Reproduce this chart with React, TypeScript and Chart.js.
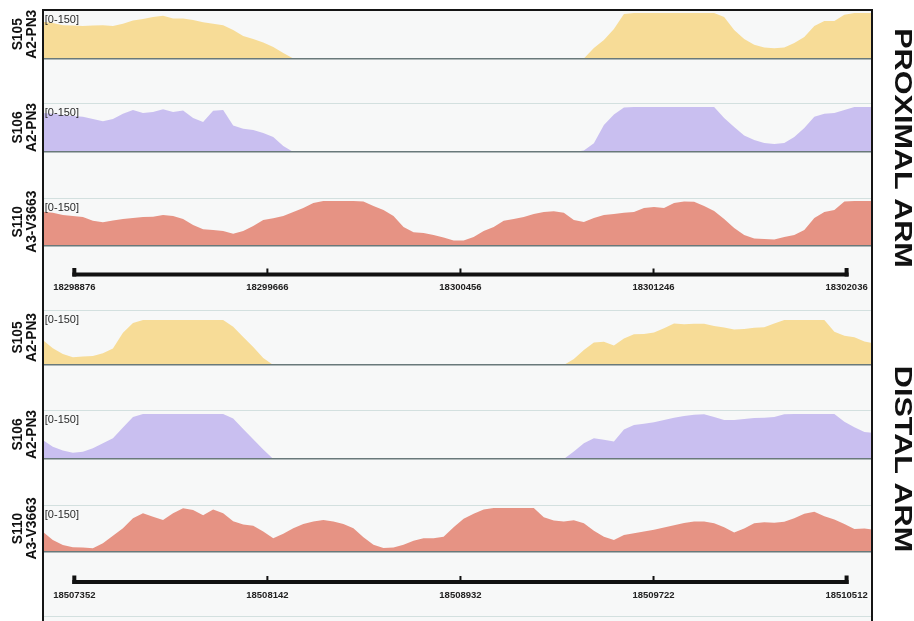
import React, { useEffect, useRef } from 'react';
import { Chart, registerables } from 'chart.js';

Chart.register(...registerables);

// genomic offset (bp) from the first scale-bar tick
const POS = [
  -129, -88, -47, -6, 35, 76, 117, 158, 199, 240,
  281, 322, 363, 404, 445, 486, 527, 568, 609, 650,
  691, 732, 773, 814, 855, 896, 937, 978, 1019, 1060,
  1101, 1142, 1183, 1224, 1265, 1306, 1347, 1388, 1429, 1470,
  1511, 1552, 1593, 1634, 1675, 1716, 1757, 1798, 1839, 1880,
  1921, 1962, 2003, 2044, 2085, 2126, 2167, 2208, 2249, 2290,
  2331, 2372, 2413, 2454, 2495, 2536, 2577, 2618, 2659, 2700,
  2741, 2782, 2823, 2864, 2905, 2946, 2987, 3028, 3069, 3110,
  3151, 3192, 3233, 3274,
];

const PROX_S105 = [
  121, 117, 110, 109, 107, 109, 110, 107, 115, 125,
  130, 137, 141, 132, 132, 127, 120, 115, 110, 94,
  74, 64, 53, 38, 18, 0, 0, 0, 0, 0,
  0, 0, 0, 0, 0, 0, 0, 0, 0, 0,
  0, 0, 0, 0, 0, 0, 0, 0, 0, 0,
  0, 0, 0, 0, 0, 35, 61, 97, 147, 150,
  150, 150, 150, 150, 150, 150, 150, 150, 137, 94,
  64, 45, 36, 34, 36, 51, 71, 107, 124, 124,
  144, 150, 150, 150,
];

const PROX_S106 = [
  130, 127, 123, 120, 117, 110, 102, 110, 127, 140,
  130, 133, 142, 133, 138, 113, 100, 137, 140, 88,
  77, 73, 63, 50, 20, 0, 0, 0, 0, 0,
  0, 0, 0, 0, 0, 0, 0, 0, 0, 0,
  0, 0, 0, 0, 0, 0, 0, 0, 0, 0,
  0, 0, 0, 0, 5, 29, 90, 125, 148, 150,
  150, 150, 150, 150, 150, 150, 150, 150, 113, 83,
  55, 40, 30, 27, 30, 50, 80, 117, 127, 130,
  140, 150, 150, 150,
];

const PROX_S110 = [
  114, 110, 103, 99, 96, 83, 78, 84, 89, 93,
  96, 97, 103, 99, 89, 69, 55, 52, 49, 40,
  49, 66, 86, 92, 99, 113, 126, 143, 150, 150,
  150, 150, 148, 133, 120, 99, 62, 45, 42, 35,
  27, 17, 17, 29, 49, 62, 83, 89, 96, 106,
  113, 115, 110, 86, 79, 93, 103, 106, 110, 113,
  126, 130, 126, 143, 148, 147, 133, 116, 89, 59,
  35, 24, 22, 20, 29, 35, 52, 93, 113, 120,
  148, 150, 150, 150,
];

const DIST_S105 = [
  83, 56, 37, 26, 28, 30, 39, 55, 107, 140,
  150, 150, 150, 150, 150, 150, 150, 150, 150, 127,
  93, 60, 23, 0, 0, 0, 0, 0, 0, 0,
  0, 0, 0, 0, 0, 0, 0, 0, 0, 0,
  0, 0, 0, 0, 0, 0, 0, 0, 0, 0,
  0, 0, 0, 20, 50, 75, 77, 65, 88, 102,
  103, 108, 122, 138, 136, 137, 137, 130, 125, 118,
  120, 124, 126, 138, 150, 150, 150, 150, 150, 111,
  97, 92, 78, 72,
];

const DIST_S106 = [
  63, 41, 28, 21, 24, 36, 52, 69, 105, 140,
  150, 150, 150, 150, 150, 150, 150, 150, 150, 135,
  100, 66, 32, 0, 0, 0, 0, 0, 0, 0,
  0, 0, 0, 0, 0, 0, 0, 0, 0, 0,
  0, 0, 0, 0, 0, 0, 0, 0, 0, 0,
  0, 0, 0, 25, 52, 69, 64, 58, 98, 113,
  117, 122, 130, 137, 143, 147, 149, 140, 130, 130,
  133, 136, 137, 140, 149, 150, 150, 150, 150, 150,
  124, 106, 90, 86,
];

const DIST_S110 = [
  69, 41, 24, 16, 15, 13, 30, 55, 81, 115,
  132, 120, 109, 132, 149, 143, 125, 145, 132, 105,
  94, 89, 70, 47, 62, 81, 95, 104, 109, 104,
  95, 81, 50, 25, 14, 15, 25, 38, 47, 47,
  52, 84, 113, 130, 145, 150, 150, 150, 150, 150,
  118, 107, 104, 108, 98, 72, 52, 41, 58, 64,
  70, 76, 83, 91, 99, 104, 104, 98, 84, 66,
  80, 98, 101, 100, 103, 115, 130, 137, 122, 111,
  95, 78, 80, 75,
];

const TICK_OFFSETS = [0, 790, 1580, 2370, 3160];
const PROX_TICK_LABELS = ['18298876', '18299666', '18300456', '18301246', '18302036'];
const DIST_TICK_LABELS = ['18507352', '18508142', '18508932', '18509722', '18510512'];
const SAMPLE_LABELS = [['S105', 'A2-PN3'], ['S106', 'A2-PN3'], ['S110', 'A3-V3663']];
const RANGE_LABEL = '[0-150]';
const ARM_LABELS = ['PROXIMAL ARM', 'DISTAL ARM'];

const X_MIN = -129;
const X_MAX = 3264;

const YELLOW = '#f7dc97';
const PURPLE = '#c9bff0';
const SALMON = '#e69384';
const FRAME = '#151515';
const PANEL_BG = '#f7f8f8';
const GUIDE = '#d3e0df';
const BASE = '#69797a';
const FONT = "'Liberation Sans', Arial, Helvetica, sans-serif";

type Row = {
  id: string;
  h: number;
  max: number;
  lines: number[];
  label?: string[];
  data?: number[];
  color?: string;
};

const ROWS: Row[] = [
  { id: 'pA', h: 48.5, max: 160, lines: [0, 160], label: SAMPLE_LABELS[0], data: PROX_S105, color: YELLOW },
  { id: 'g1', h: 44.5, max: 1, lines: [] },
  { id: 'pB', h: 49, max: 163, lines: [0, 163], label: SAMPLE_LABELS[1], data: PROX_S106, color: PURPLE },
  { id: 'g2', h: 46, max: 1, lines: [] },
  { id: 'pC', h: 47.5, max: 160, lines: [0, 160], label: SAMPLE_LABELS[2], data: PROX_S110, color: SALMON },
  { id: 'gP', h: 64.5, max: 1, lines: [] },
  { id: 'dA', h: 55, max: 183, lines: [0, 183], label: SAMPLE_LABELS[0], data: DIST_S105, color: YELLOW },
  { id: 'g4', h: 45, max: 1, lines: [] },
  { id: 'dB', h: 49, max: 163, lines: [0, 163], label: SAMPLE_LABELS[1], data: DIST_S106, color: PURPLE },
  { id: 'g5', h: 46, max: 1, lines: [] },
  { id: 'dC', h: 47, max: 160, lines: [0, 160], label: SAMPLE_LABELS[2], data: DIST_S110, color: SALMON },
  { id: 'gD', h: 69, max: 1, lines: [0.058] },
];

const SCALE_BARS = [
  { axis: 'gP', labels: PROX_TICK_LABELS, barDy: 29, labelDy: 42 },
  { axis: 'gD', labels: DIST_TICK_LABELS, barDy: 30, labelDy: 43 },
];

const ARM_TEXT_POS = [
  { x: 901, y: 148 },
  { x: 901, y: 459 },
];

const overlayPlugin = {
  id: 'overlay',
  beforeDraw(chart: any) {
    const { ctx, chartArea } = chart;
    ctx.save();
    ctx.fillStyle = PANEL_BG;
    ctx.fillRect(chartArea.left, chartArea.top, chartArea.right - chartArea.left, chartArea.bottom - chartArea.top);
    ctx.restore();
  },
  afterDraw(chart: any) {
    const { ctx, chartArea } = chart;
    const xs = chart.scales.x;
    ctx.save();
    // range labels
    ctx.fillStyle = '#2b2b2b';
    ctx.font = `11px ${FONT}`;
    ctx.textAlign = 'left';
    ctx.textBaseline = 'top';
    ROWS.forEach((r) => {
      if (!r.data) return;
      const s = chart.scales[r.id];
      ctx.fillText(RANGE_LABEL, chartArea.left + 2, s.top + 4);
    });
    // scale bars
    SCALE_BARS.forEach((sb) => {
      const s = chart.scales[sb.axis];
      const y = s.top + sb.barDy;
      const x0 = xs.getPixelForValue(TICK_OFFSETS[0]);
      const x1 = xs.getPixelForValue(TICK_OFFSETS[TICK_OFFSETS.length - 1]);
      ctx.fillStyle = '#111';
      ctx.fillRect(x0 - 2, y - 2, x1 - x0 + 4, 4);
      TICK_OFFSETS.forEach((t, i) => {
        const x = xs.getPixelForValue(t);
        const end = i === 0 || i === TICK_OFFSETS.length - 1;
        if (end) ctx.fillRect(x - 2, y - 6.5, 4, 8.5);
        else ctx.fillRect(x - 1, y - 6, 2, 5);
      });
      ctx.fillStyle = '#222';
      ctx.font = `bold 9.5px ${FONT}`;
      ctx.textAlign = 'center';
      ctx.textBaseline = 'middle';
      sb.labels.forEach((lab, i) => {
        ctx.fillText(lab, xs.getPixelForValue(TICK_OFFSETS[i]), s.top + sb.labelDy);
      });
    });
    // arm labels
    ctx.fillStyle = '#111';
    ctx.font = `bold 23px ${FONT}`;
    ctx.textAlign = 'center';
    ctx.textBaseline = 'middle';
    ARM_LABELS.forEach((t, i) => {
      ctx.save();
      ctx.translate(ARM_TEXT_POS[i].x, ARM_TEXT_POS[i].y);
      ctx.rotate(Math.PI / 2);
      ctx.scale(1.33, 1);
      ctx.fillText(t, 0, 0);
      ctx.restore();
    });
    ctx.restore();
  },
};

function buildConfig(): any {
  const scales: any = {
    x: {
      type: 'linear',
      position: 'top',
      min: X_MIN,
      max: X_MAX,
      ticks: { display: false },
      grid: { display: false, drawTicks: false },
      border: { display: true, color: FRAME, width: 2, z: 2 },
    },
    yR: {
      type: 'linear',
      position: 'right',
      min: 0,
      max: 1,
      ticks: { display: false },
      grid: { display: false, drawTicks: false },
      border: { display: true, color: FRAME, width: 2, z: 2 },
    },
  };
  ROWS.forEach((r, i) => {
    scales[r.id] = {
      type: 'linear',
      position: 'left',
      stack: 'tracks',
      stackWeight: r.h,
      weight: ROWS.length - i,
      min: 0,
      max: r.max,
      ticks: { display: false },
      grid: {
        display: r.lines.length > 0,
        drawTicks: false,
        z: 1,
        color: (c: any) => (c.tick && c.tick.value === 0 && r.data ? BASE : GUIDE),
        lineWidth: (c: any) => (c.tick && c.tick.value === 0 && r.data ? 1.5 : 1),
      },
      border: { display: true, color: FRAME, width: 2, z: 2 },
      title: {
        display: true,
        text: r.label ? r.label : ['', ''],
        color: '#111',
        font: { family: FONT, size: 13.8, weight: 'bold', lineHeight: 1.0 },
        padding: { top: 11.5, bottom: 3.7 },
      },
      afterBuildTicks: (axis: any) => {
        axis.ticks = r.lines.map((v) => ({ value: v }));
      },
    };
  });
  const datasets = ROWS.filter((r) => r.data).map((r) => ({
    label: r.id,
    data: POS.map((x, i) => ({ x, y: (r.data as number[])[i] })),
    yAxisID: r.id,
    xAxisID: 'x',
    fill: 'origin',
    backgroundColor: r.color,
    borderColor: r.color,
    borderWidth: 0,
    pointRadius: 0,
    tension: 0,
  }));
  return {
    type: 'line',
    data: { datasets },
    options: {
      animation: false,
      responsive: false,
      maintainAspectRatio: false,
      events: [],
      layout: { padding: { left: 0, right: 42, top: 10, bottom: 0 } },
      plugins: { legend: { display: false }, tooltip: { enabled: false } },
      scales,
    },
    plugins: [overlayPlugin],
  };
}

export default function App() {
  const ref = useRef<HTMLCanvasElement>(null);
  useEffect(() => {
    const chart = new Chart(ref.current as HTMLCanvasElement, buildConfig());
    return () => chart.destroy();
  }, []);
  return (
    <div style={{ position: 'fixed', left: 0, top: 0, width: 914, height: 621, background: '#fff' }}>
      <canvas ref={ref} width={914} height={621} style={{ display: 'block', width: 914, height: 621 }} />
    </div>
  );
}
